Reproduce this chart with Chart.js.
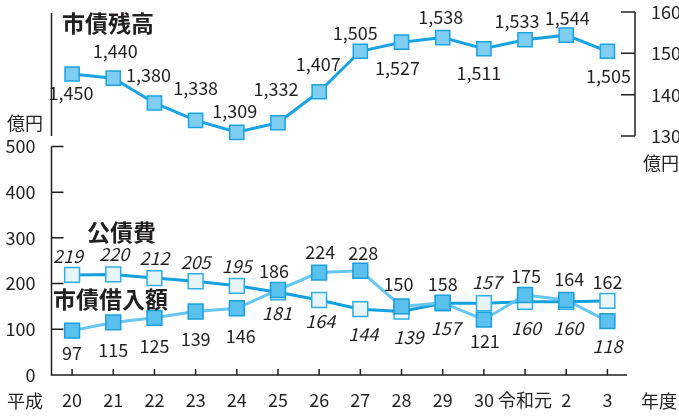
<!DOCTYPE html>
<html>
<head>
<meta charset="utf-8">
<script src="https://cdn.jsdelivr.net/npm/chart.js@4"></script>
<style>
  body { margin: 0; background: #fff; }
  canvas { display: block; }
</style>
</head>
<body>
<canvas id="chart" width="679" height="418"></canvas>
<script>
var years = ['20', '21', '22', '23', '24', '25', '26', '27', '28', '29', '30', '令和元', '2', '3'];

// 市債残高 (億円)
var zandaka = [1450, 1440, 1380, 1338, 1309, 1332, 1407, 1505, 1527, 1538, 1511, 1533, 1544, 1505];
// 公債費 (億円)
var kosaihi = [219, 220, 212, 205, 195, 181, 164, 144, 139, 157, 157, 160, 160, 162];
// 市債借入額 (億円)
var karire = [97, 115, 125, 139, 146, 186, 224, 228, 150, 158, 121, 175, 164, 118];

var leftTicks = [0, 100, 200, 300, 400, 500];
var rightTicks = [1300, 1400, 1500, 1600];

// label placement (offset from the marker)
var zanDx = [-1, 2, -6, 0, -2, -2, -1, -5, -4, -2, -5, -8, 1, 1];
var zanDy = [19, -27, -28, -32, -21, -34, -28, -18, 26, -20, 24, -19, -17, 25];
var kosaiDx = [-4, 1, 0, 0, 0, -1, 1, 3, 7, 3, 3, 1, 2, 0];
var kosaiDy = [-19, -20, -20, -19, -20, 21, 21, 25, 26, 25, -21, 26, 26, -19];
var kariDx = [0, 0, 0, 0, 4, -4, 1, 3, -3, 0, 1, 1, 3, 0];
var kariDy = [23, 28, 28, 28, 28, -19, -20, -18, -22, -19, 21, -19, -21, 25];
// the last year's labels swap style in the original
var kosaiItalic = [1, 1, 1, 1, 1, 1, 1, 1, 1, 1, 1, 1, 1, 0];
var kariItalic = [0, 0, 0, 0, 0, 0, 0, 0, 0, 0, 0, 0, 0, 1];

var FONT = "'Noto Sans CJK JP', 'Noto Sans', sans-serif";
var INK = '#231f20';

Chart.defaults.font.family = FONT;
Chart.defaults.color = INK;

function fmt(v) {
  return v.toLocaleString('en-US');
}

var decor = {
  id: 'decor',
  beforeDatasetsDraw: function(chart) {
    var ctx = chart.ctx;
    var x = chart.scales.x, y = chart.scales.y, yr = chart.scales.yR;
    var L = chart.chartArea.left, R = chart.chartArea.right;
    var y0 = y.getPixelForValue(0);
    ctx.save();
    ctx.strokeStyle = INK;
    ctx.lineWidth = 1.5;
    ctx.beginPath();
    // lower panel axes
    ctx.moveTo(L, y.getPixelForValue(500));
    ctx.lineTo(L, y0);
    ctx.lineTo(R - 1, y0);
    leftTicks.forEach(function(v) {
      var p = y.getPixelForValue(v);
      ctx.moveTo(L, p);
      ctx.lineTo(L + 12, p);
    });
    years.forEach(function(lbl, i) {
      var p = x.getPixelForValue(i);
      ctx.moveTo(p, y0);
      ctx.lineTo(p, y0 - 6);
    });
    // upper panel
    ctx.moveTo(L, yr.getPixelForValue(1600) + 1);
    ctx.lineTo(L, yr.getPixelForValue(1300));
    var ax = R + 7;
    ctx.moveTo(ax, yr.getPixelForValue(1600));
    ctx.lineTo(ax, yr.getPixelForValue(1300));
    rightTicks.forEach(function(v) {
      var p = yr.getPixelForValue(v);
      ctx.moveTo(ax - 14, p);
      ctx.lineTo(ax, p);
    });
    ctx.stroke();
    ctx.restore();
  },
  afterDatasetsDraw: function(chart) {
    var ctx = chart.ctx;
    ctx.save();
    ctx.fillStyle = INK;
    ctx.textAlign = 'center';
    ctx.textBaseline = 'middle';

    var sets = [
      { idx: 2, dx: zanDx, dy: zanDy, it: null },
      { idx: 1, dx: kosaiDx, dy: kosaiDy, it: kosaiItalic },
      { idx: 0, dx: kariDx, dy: kariDy, it: kariItalic }
    ];
    sets.forEach(function(s) {
      var meta = chart.getDatasetMeta(s.idx);
      var data = chart.data.datasets[s.idx].data;
      meta.data.forEach(function(pt, i) {
        var italic = s.it && s.it[i];
        ctx.font = (italic ? 'italic ' : '') + '18px ' + FONT;
        ctx.fillText(fmt(data[i]), pt.x + s.dx[i], pt.y + s.dy[i]);
      });
    });

    // titles and units
    ctx.textAlign = 'left';
    ctx.font = 'bold 23px ' + FONT;
    ctx.fillText('市債残高', 62, 23);
    ctx.fillText('公債費', 87, 232);
    ctx.fillText('市債借入額', 53, 299);
    ctx.font = '18px ' + FONT;
    ctx.fillText('億円', 7, 123);
    ctx.fillText('億円', 643, 163);
    ctx.fillText('平成', 7, 401);
    ctx.fillText('年度', 641, 401);
    ctx.restore();
  }
};

function plain(v) {
  return String(v);
}

var ctx = document.getElementById('chart').getContext('2d');
var chart = new Chart(ctx, {
  type: 'line',
  data: {
    labels: years,
    datasets: [
      {
        label: '市債借入額',
        data: karire,
        yAxisID: 'y',
        borderColor: '#66c6f0',
        borderWidth: 3,
        pointStyle: 'rect',
        pointRadius: 10.5,
        pointBackgroundColor: '#5ac1ef',
        pointBorderColor: '#1a9fdc',
        pointBorderWidth: 1.5
      },
      {
        label: '公債費',
        data: kosaihi,
        yAxisID: 'y',
        borderColor: '#13a0df',
        borderWidth: 3,
        pointStyle: 'rect',
        pointRadius: 10.5,
        pointBackgroundColor: '#e8f4fc',
        pointBorderColor: '#2eaee8',
        pointBorderWidth: 1.5
      },
      {
        label: '市債残高',
        data: zandaka,
        yAxisID: 'yR',
        borderColor: '#1aa3e2',
        borderWidth: 3,
        pointStyle: 'rect',
        pointRadius: 10,
        pointBackgroundColor: '#80cdf2',
        pointBorderColor: '#1aa3e2',
        pointBorderWidth: 1.5
      }
    ]
  },
  options: {
    responsive: false,
    animation: false,
    layout: { padding: { top: 12, left: 0, right: 0, bottom: 0 } },
    plugins: {
      legend: { display: false },
      tooltip: { enabled: false }
    },
    scales: {
      x: {
        type: 'category',
        offset: true,
        grid: { display: false },
        border: { display: false },
        ticks: { font: { size: 18 }, color: INK, padding: 6, autoSkip: false, maxRotation: 0 },
        afterFit: function(scale) { scale.height = 43; }
      },
      y: {
        position: 'left',
        min: 0,
        max: 794,
        grid: { display: false },
        border: { display: false },
        ticks: { font: { size: 18 }, color: INK, padding: 8, callback: plain },
        afterBuildTicks: function(scale) {
          scale.ticks = leftTicks.map(function(v) { return { value: v }; });
        },
        afterFit: function(scale) {
          scale.width = 51.5;
          scale.paddingTop = 0;
          scale.paddingBottom = 0;
        }
      },
      yR: {
        position: 'right',
        min: 722,
        max: 1600,
        grid: { display: false },
        border: { display: false },
        ticks: { font: { size: 18 }, color: INK, padding: 15, callback: plain },
        afterBuildTicks: function(scale) {
          scale.ticks = rightTicks.map(function(v) { return { value: v }; });
        },
        afterFit: function(scale) {
          scale.width = 51;
          scale.paddingTop = 0;
          scale.paddingBottom = 0;
        }
      }
    }
  },
  plugins: [decor]
});
</script>
</body>
</html>
